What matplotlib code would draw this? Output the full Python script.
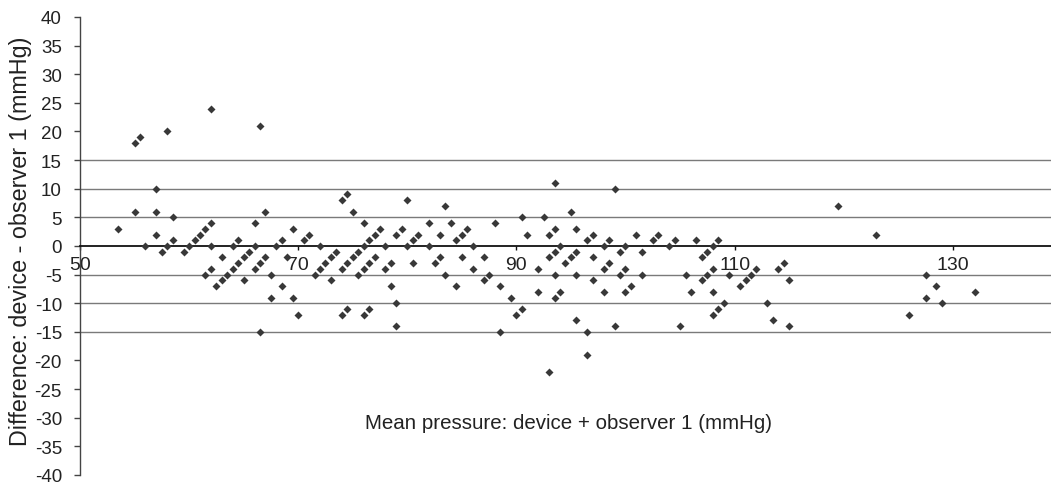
import matplotlib
matplotlib.use("Agg")
import matplotlib.pyplot as plt
import numpy as np

plt.rcParams['font.family'] = ['Liberation Sans', 'DejaVu Sans']
plt.rcParams['axes.unicode_minus'] = False

# Bland-Altman style data: mean of device and observer 1, and their difference
mean_pressure = [
    53.5, 55, 55.5, 55, 56, 57, 57, 57, 57.5, 58, 58, 58.5, 58.5, 59.5, 60,
    60.5, 61, 61.5, 62, 62, 62, 61.5, 62, 62.5, 63, 63, 63.5, 64, 64.5, 65,
    65.5, 66, 64, 64.5, 65, 66, 66, 66.5, 67, 66.5, 66.5, 67, 67.5, 67.5, 68,
    68.5, 68.5, 69, 69.5, 69.5, 70, 70.5, 71, 71.5, 72, 72.5, 73, 73.5, 72,
    73, 74, 74.5, 74, 74.5, 75, 75.5, 76, 76.5, 77, 77.5, 75, 76, 75.5, 76,
    76.5, 77, 74, 74.5, 76, 76.5,
    78, 78, 78.5, 78.5, 79, 79, 79, 79.5, 80, 80, 80.5, 81, 80.5, 82, 82,
    82.5, 83, 83, 83.5, 83.5, 84, 84.5, 85, 85.5, 84.5, 85, 86, 86, 87, 87,
    87.5, 88, 88.5, 88.5, 89.5, 90, 90.5, 90.5, 91, 92, 92, 92.5, 93, 93.5,
    94, 93, 93.5, 93.5, 93, 93.5, 93.5, 94, 94.5, 95, 95.5, 95, 95.5, 95.5,
    95.5, 96.5, 96.5, 96.5, 97, 97, 97, 98, 98, 98, 98.5, 98.5, 99, 99, 99.5,
    99.5, 100, 100, 100, 100.5, 101, 101.5, 101.5, 102.5, 103, 104,
    104.5, 106.5, 107, 107.5, 108, 108.5, 105.5, 106, 105, 107, 107.5, 108,
    108, 108, 108.5, 109, 109.5, 110.5, 111, 111.5, 112, 113, 113.5, 114,
    114.5, 115, 115, 119.5, 123, 126, 127.5, 127.5, 128.5, 129, 132,
]
difference = [
    3, 18, 19, 6, 0, 10, 6, 2, -1, 20, 0, 1, 5, -1, 0,
    1, 2, 3, 4, 24, 0, -5, -4, -7, -6, -2, -5, -4, -3, -2,
    -1, 0, 0, 1, -6, 4, -4, -3, -2, 21, -15, 6, -5, -9, 0,
    1, -7, -2, 3, -9, -12, 1, 2, -5, -4, -3, -2, -1, 0,
    -6, 8, 9, -4, -3, -2, -1, 0, 1, 2, 3, 6, 4, -5, -4,
    -3, -2, -12, -11, -12, -11,
    0, -4, -3, -7, -10, -14, 2, 3, 8, 0, 1, 2, -3, 4, 0,
    -3, -2, 2, 7, -5, 4, 1, 2, 3, -7, -2, 0, -4, -2, -6,
    -5, 4, -7, -15, -9, -12, -11, 5, 2, -4, -8, 5, -2, -1,
    0, 2, 3, 11, -22, -5, -9, -8, -3, -2, -1, 6, 3, -5,
    -13, -15, -19, 1, 2, -2, -6, 0, -4, -8, 1, -3, 10, -14, -1,
    -5, 0, -4, -8, -7, 2, -1, -5, 1, 2, 0,
    1, 1, -2, -1, 0, 1, -5, -8, -14, -6, -5, -4,
    -8, -12, -11, -10, -5, -7, -6, -5, -4, -10, -13, -4,
    -3, -6, -14, 7, 2, -12, -5, -9, -7, -10, -8,
]

# horizontal reference levels (+/- mmHg)
limits = [5, 10, 15]
x_ticks = [50, 70, 90, 110, 130]
y_ticks = list(range(-40, 45, 5))

fig = plt.figure(figsize=(10.51, 4.85), dpi=100)
ax = fig.add_axes([0.0761, 0.0186, 0.9239, 0.9443])

for lev in limits:
    for s in (1, -1):
        ax.axhline(s * lev, color='#7a7a7a', lw=1.0, zorder=1)

ax.plot(mean_pressure, difference, linestyle='none', marker='D', ms=4.3,
        color='#383838', mec='none', zorder=3)

ax.set_xlim(50, 139)
ax.set_ylim(-40, 40)

# x axis crosses at zero
ax.spines['bottom'].set_position(('data', 0))
ax.spines['bottom'].set_color('#111111')
ax.spines['bottom'].set_linewidth(1.3)
ax.spines['left'].set_color('#444444')
ax.spines['left'].set_linewidth(1.0)
ax.spines['top'].set_visible(False)
ax.spines['right'].set_visible(False)

ax.set_xticks(x_ticks)
ax.set_yticks(y_ticks)
ax.tick_params(axis='x', direction='out', length=3, width=1, color='#111111',
               labelsize=14, labelcolor='#222222', pad=4)
ax.tick_params(axis='y', direction='out', length=4, width=1, color='#444444',
               labelsize=13.5, labelcolor='#222222', pad=9)

ax.set_xlabel('Mean pressure: device + observer 1 (mmHg)', fontsize=14.8,
              color='#222222')
ax.xaxis.set_label_coords(0.503, 0.135)
ax.set_ylabel('Difference: device - observer 1 (mmHg)', fontsize=16.8,
              color='#222222')
ax.yaxis.set_label_coords(-0.049, 0.512)

fig.savefig('out.png', dpi=100)
